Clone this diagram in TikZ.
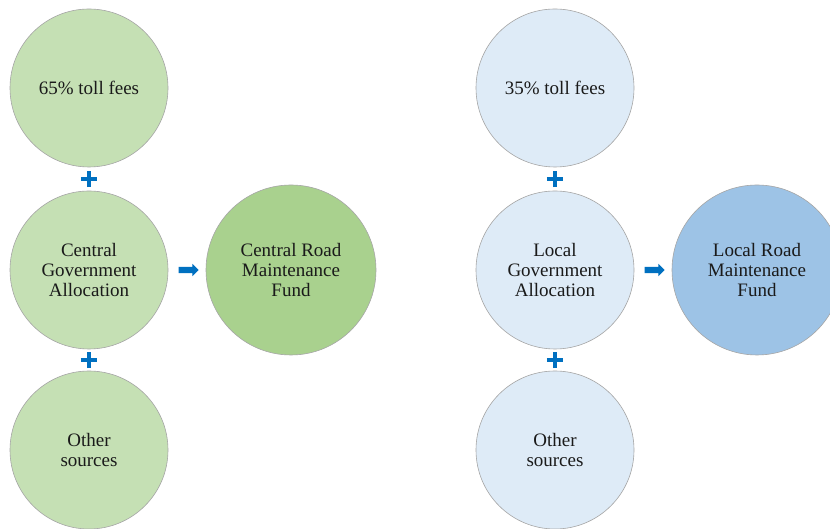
\documentclass[tikz,border=0pt]{standalone}
\usepackage{fontspec}
\setmainfont{Liberation Serif}
\usetikzlibrary{shapes.arrows,shapes.misc,calc}
\definecolor{ink}{HTML}{1A1A1A}
\definecolor{rim}{HTML}{A6A6A6}
\definecolor{greenlt}{HTML}{C5E0B4}
\definecolor{greendk}{HTML}{A9D18E}
\definecolor{bluelt}{HTML}{DEEBF7}
\definecolor{bluedk}{HTML}{9DC3E6}
\definecolor{signblue}{HTML}{0070C0}
\tikzset{
  src/.style={circle,draw=rim,line width=.6pt,minimum size=158pt,inner sep=0pt,align=center,
    text=ink,font=\fontsize{19}{20}\selectfont},
  fund/.style={src,minimum size=170pt},
  plussign/.style={cross out,draw=signblue,line width=3.6pt,rotate=45,minimum size=7.8pt,inner sep=0pt},
  flowarrow/.style={single arrow,fill=signblue,draw=none,minimum height=20pt,minimum width=12pt,
    single arrow head extend=3pt,single arrow head indent=0pt,inner xsep=0pt,inner ysep=3pt},
}
\begin{document}
\begin{tikzpicture}[x=1pt,y=1pt]
  \clip (0,0) rectangle (830,529);
  \fill[white] (0,0) rectangle (830,529);
  % central side
  \node[src,fill=greenlt] (toll1) at (89,441) {65\% toll fees};
  \node[src,fill=greenlt] (gov1) at (89,259) {Central\\Government\\Allocation};
  \node[src,fill=greenlt] (oth1) at (89,79) {Other\\sources};
  \node[fund,fill=greendk] (fund1) at (291,259) {Central Road\\Maintenance\\Fund};
  % local side
  \node[src,fill=bluelt] (toll2) at (555,441) {35\% toll fees};
  \node[src,fill=bluelt] (gov2) at (555,259) {Local\\Government\\Allocation};
  \node[src,fill=bluelt] (oth2) at (555,79) {Other\\sources};
  \node[fund,fill=bluedk] (fund2) at (757,259) {Local Road\\Maintenance\\Fund};
  % signs
  \foreach \s in {1,2} {
    \node[plussign] (pa\s) at ($(toll\s.south)!.5!(gov\s.north)$) {};
    \node[plussign] (pb\s) at ($(gov\s.south)!.5!(oth\s.north)$) {};
    \node[flowarrow] (ar\s) at ($(gov\s.east)!.5!(fund\s.west)$) {};
  }
\end{tikzpicture}
\end{document}
